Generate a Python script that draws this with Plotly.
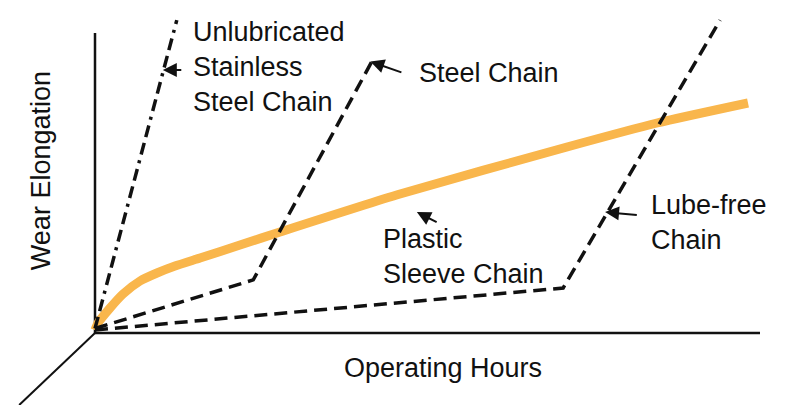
import plotly.graph_objects as go

# --- data (arbitrary units: operating hours 0-100, wear elongation 0-100) ---
unlub_x = [0.0, 12.3]
unlub_y = [1.5, 104.3]

steel_x = [0.0, 23.8, 42.0]
steel_y = [1.5, 17.7, 92.0]

lube_x = [0.0, 70.4, 94.0]
lube_y = [1.0, 15.0, 104.3]

plastic_x = [0.0, 0.45, 2.26, 4.21, 6.77, 9.32, 12.03, 15.79, 21.8, 27.82, 45.86, 70.98, 84.51, 98.2]
plastic_y = [1.0, 3.33, 8.33, 13.0, 17.33, 20.0, 22.33, 25.0, 29.33, 33.67, 46.33, 62.0, 70.0, 76.67]

axis_x_end = 100
axis_y_end = 100
depth_axis_x = -11.4
depth_axis_y = -24.0

BLACK = "#111111"
ORANGE = "#F9B64C"
FONT = "Liberation Sans, Arial, sans-serif"

fig = go.Figure()

# axes drawn as lines from origin
fig.add_trace(go.Scatter(x=[0, axis_x_end], y=[0, 0], mode="lines",
                         line=dict(color=BLACK, width=2.5), hoverinfo="skip"))
fig.add_trace(go.Scatter(x=[0, 0], y=[0, axis_y_end], mode="lines",
                         line=dict(color=BLACK, width=2.5), hoverinfo="skip"))
fig.add_trace(go.Scatter(x=[0, depth_axis_x], y=[0, depth_axis_y], mode="lines",
                         line=dict(color=BLACK, width=2), hoverinfo="skip"))

fig.add_trace(go.Scatter(x=plastic_x, y=plastic_y, mode="lines", name="Plastic Sleeve Chain",
                         line=dict(color=ORANGE, width=9, shape="spline", smoothing=0.6)))
fig.add_trace(go.Scatter(x=unlub_x, y=unlub_y, mode="lines", name="Unlubricated Stainless Steel Chain",
                         line=dict(color=BLACK, width=3.5, dash="12px,6px,12px,6px,3px,6px")))
fig.add_trace(go.Scatter(x=steel_x, y=steel_y, mode="lines", name="Steel Chain",
                         line=dict(color=BLACK, width=3.5, dash="13px,7px")))
fig.add_trace(go.Scatter(x=lube_x, y=lube_y, mode="lines", name="Lube-free Chain",
                         line=dict(color=BLACK, width=3.5, dash="13px,7px")))

tf = dict(family=FONT, size=27, color=BLACK)

def label(x, y, text, **kw):
    fig.add_annotation(x=x, y=y, text=text, showarrow=False, xanchor="left",
                       yanchor="middle", align="left", font=tf, **kw)

def arrow(tx, ty, fx, fy):
    fig.add_annotation(x=tx, y=ty, ax=fx, ay=fy, xref="x", yref="y", axref="x", ayref="y",
                       text="", showarrow=True, arrowhead=2, arrowsize=1.4,
                       arrowwidth=2, arrowcolor=BLACK)

label(14.5, 88.7, "Unlubricated<br>Stainless<br>Steel Chain")
arrow(10.2, 87.7, 13.2, 87.7)

label(48.4, 86.7, "Steel Chain")
arrow(41.4, 90.5, 46.3, 86.7)

label(43.0, 25.5, "Plastic<br>Sleeve Chain")
arrow(48.4, 40.3, 51.6, 36.7)

label(83.3, 36.8, "Lube-free<br>Chain")
arrow(76.7, 40.3, 81.7, 39.3)

fig.add_annotation(x=52.3, y=-11.7, text="Operating Hours", showarrow=False,
                   xanchor="center", yanchor="middle", font=tf)
fig.add_annotation(x=-8.1, y=54, text="Wear Elongation", showarrow=False, textangle=-90,
                   xanchor="center", yanchor="middle", font=tf)

# page body has an 8px margin: shift ranges so the origin lands at (95, 333) on screen
fig.update_layout(
    width=800, height=405,
    margin=dict(l=0, r=0, t=0, b=0),
    paper_bgcolor="white", plot_bgcolor="white",
    showlegend=False,
    xaxis=dict(range=[-87 / 6.65, 713 / 6.65], visible=False, fixedrange=True),
    yaxis=dict(range=[-80 / 3, 325 / 3], visible=False, fixedrange=True),
)

fig.write_html("out.html")
